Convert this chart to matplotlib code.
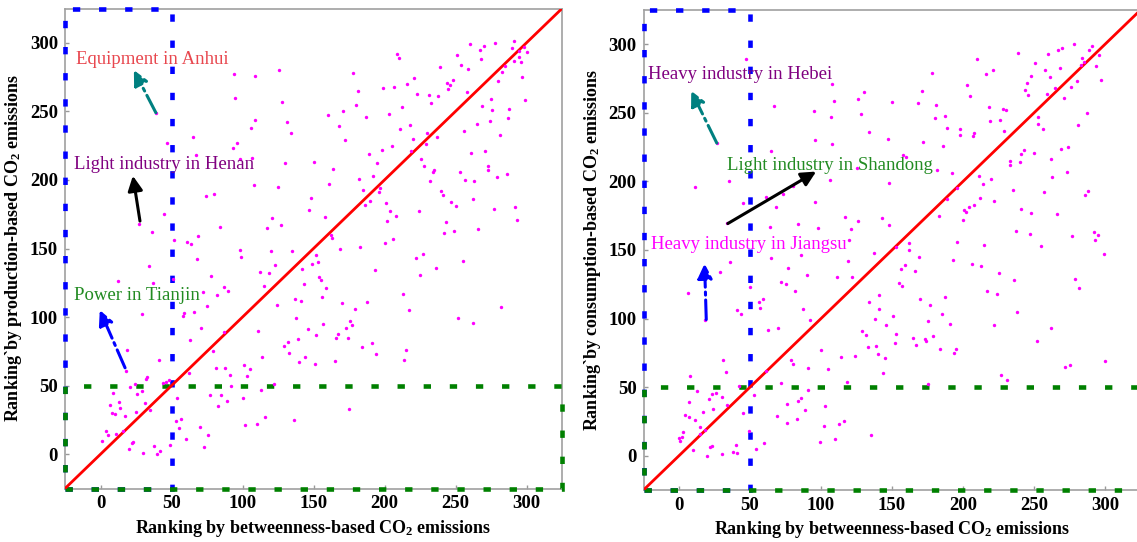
import matplotlib
matplotlib.use('Agg')
import matplotlib.pyplot as plt
from matplotlib.patches import Rectangle

plt.rcParams['font.family'] = ['Liberation Serif', 'DejaVu Serif']
plt.rcParams['mathtext.fontset'] = 'custom'
plt.rcParams['mathtext.rm'] = 'Liberation Serif:bold'
plt.rcParams['mathtext.it'] = 'Liberation Serif:italic:bold'
plt.rcParams['mathtext.bf'] = 'Liberation Serif:bold'

# ---------------- data ----------------
ticks = [0, 50, 100, 150, 200, 250, 300]
axis_min, axis_max = -25, 325
top_n = 50

left_pts = [
    (94,277),(109,276),(126,280),(95,260),(128,257),(39,249),(109,244),(106,238),(131,242),(134,234),
    (65,231),(47,227),(96,227),(93,223),(67,218),(107,216),(98,215),(130,212),(150,213),(108,196),
    (125,195),(74,188),(80,190),(148,187),(147,178),(45,175),(27,168),(36,162),(121,172),(117,165),
    (127,167),(84,166),(69,159),(52,156),(61,155),(64,153),(98,149),(120,148),(135,148),
    (260,299),(270,298),(278,300),(291,301),(267,295),(290,296),(295,294),(298,297),(300,293),(209,292),
    (210,289),(251,291),(268,288),(291,287),(295,290),(296,286),(254,284),(259,281),(239,282),(285,283),
    (283,279),(178,278),(221,274),(248,273),(244,271),(246,269),(245,266),(297,275),(280,272),(199,267),
    (207,268),(216,270),(181,265),(223,263),(231,262),(238,261),(258,264),(275,259),(233,256),(180,255),
    (212,253),(269,254),(276,251),(288,252),(299,258),(160,247),(171,250),(187,246),(203,248),(287,245),
    (274,243),(168,239),(218,240),(211,237),(265,241),(256,236),(230,234),(237,231),(281,233),(172,229),
    (220,230),(229,226),(205,225),(198,222),(219,221),(189,219),(261,220),(271,221),(226,215),(195,212),
    (164,208),(228,210),(235,207),(234,206),(273,210),(273,207),(253,206),(257,200),(263,199),(279,202),
    (286,204),(182,201),(192,203),(161,197),(232,199),(197,194),(185,193),(196,191),(240,192),(241,189),
    (190,185),(186,182),(201,183),(247,184),(250,181),(262,186),(277,179),(292,180),(158,173),(204,177),
    (208,174),(202,170),(224,177),(293,171),(243,169),(249,163),(242,161),(266,164),(162,160),(163,158),
    (206,157),(200,154),(183,151),(169,150),
    (99,144),(68,142),(34,137),(123,138),(149,139),(142,135),(112,133),(119,132),(78,130),(51,128),
    (12,126),(37,125),(143,124),(115,123),(87,122),(90,119),(72,118),(82,116),(137,113),(141,112),
    (75,108),(124,109),(59,103),(58,101),(66,104),(29,102),(6,97),(138,99),(71,92),(111,90),
    (146,91),(87,89),(63,83),(139,84),(132,82),(129,79),(19,76),(41,69),(79,75),(114,71),
    (133,74),(144,71),(140,67),(151,66),(18,61),(62,59),(33,56),(32,55),(48,54),(46,53),
    (44,52),(81,63),(88,63),(91,58),(101,65),(105,62),(103,57),(122,51),(92,50),(113,47),
    (24,51),(21,49),(9,45),(29,46),(26,44),(54,41),(77,43),(85,43),(83,35),(89,39),
    (100,41),(13,38),(7,36),(14,34),(31,37),(35,32),(25,31),(8,30),(10,29),(17,28),
    (57,26),(53,24),(55,19),(70,20),(116,27),(136,25),(102,21),(110,22),(4,17),(5,14),
    (1,10),(11,15),(16,17),(76,14),(60,11),(23,9),(22,8),(20,4),(30,1),(38,6),
    (42,2),(40,0),(49,7),(73,5),
    (152,145),(153,140),(222,143),(227,146),(255,141),(193,134),(236,136),(225,131),(154,129),(155,127),
    (159,121),(156,115),(170,110),(188,111),(213,117),(179,106),(217,105),(282,107),(157,95),(176,97),
    (177,94),(173,92),(167,88),(166,85),(174,85),(152,87),(252,99),(262,96),(184,78),(191,81),
    (194,73),(215,76),(214,69),(165,68),(175,33),
]

right_pts = [
    (47,289),(108,271),(130,265),(109,259),(126,260),(67,255),(95,251),(107,247),(128,249),(134,236),
    (147,231),(96,230),(108,227),(65,222),(27,228),(35,200),(11,196),(106,201),(125,210),(80,197),
    (73,191),(61,189),(68,181),(96,185),(45,184),(34,170),(64,167),(84,169),(98,166),(117,174),
    (126,171),(121,165),(143,173),(120,157),
    (278,300),(291,299),(289,296),(270,297),(267,296),(260,293),(239,294),(296,292),(284,290),(285,287),
    (283,285),(294,284),(268,283),(251,286),(258,281),(248,277),(261,276),(245,272),(210,289),(178,279),
    (216,278),(221,281),(203,270),(171,266),(205,262),(244,267),(246,263),(265,268),(259,264),(276,269),
    (280,273),(297,274),(271,261),(150,258),(168,257),(181,256),(218,254),(228,253),(230,252),(287,250),
    (180,246),(187,248),(219,244),(226,245),(253,247),(253,242),(256,238),(281,241),(189,239),(198,238),
    (198,234),(208,235),(207,233),(229,237),(172,229),(186,226),(274,225),(269,224),(250,221),(243,223),
    (241,220),(233,215),(233,212),(240,214),(158,219),(160,218),(262,216),(182,208),(192,206),(273,207),
    (148,199),(211,204),(220,202),(214,198),(263,203),(196,195),(189,187),(235,194),(257,192),(212,188),
    (222,186),(208,183),(204,181),(201,179),(202,178),(183,175),(200,172),(241,180),(248,177),(266,176),
    (286,190),(288,193),(148,168),(237,164),(247,162),(277,160),(292,163),(295,161),(293,157),(196,156),
    (215,154),(255,153),(162,155),(162,150),(153,152),
    (36,141),(29,134),(65,144),(77,137),(86,146),(90,132),(72,127),(75,125),(82,120),(111,130),
    (119,142),(122,130),(137,148),(6,119),(50,123),(56,112),(59,114),(57,108),(41,106),(44,103),
    (18,99),(87,107),(92,99),(63,92),(70,93),(134,112),(141,117),(141,107),(138,100),(129,91),
    (132,88),(146,95),(100,77),(114,72),(124,73),(133,79),(139,80),(140,74),(145,71),(144,60),
    (31,70),(33,61),(8,58),(79,70),(80,67),(91,64),(105,63),(61,62),(72,53),(42,51),
    (118,54),(91,48),(13,47),(23,45),(26,46),(30,43),(21,41),(7,39),(34,37),(24,34),
    (17,32),(4,30),(7,28),(11,26),(53,44),(45,31),(76,38),(86,42),(84,40),(89,33),
    (103,36),(69,29),(76,24),(83,27),(102,22),(113,23),(116,25),(135,15),(15,21),(18,19),
    (15,16),(3,17),(2,14),(0,13),(1,11),(49,18),(23,7),(22,6),(10,4),(20,0),
    (30,1),(38,3),(40,8),(41,2),(54,5),(60,9),(99,10),(110,12),
    (169,145),(193,143),(206,140),(213,138),(225,133),(236,128),(159,139),(156,136),(166,135),(155,126),
    (157,124),(299,147),(279,129),(282,122),(217,120),(224,118),(170,114),(177,110),(187,116),(185,103),
    (151,102),(175,98),(191,96),(222,95),(238,105),(262,93),(252,84),(153,89),(165,86),(173,85),
    (174,84),(179,87),(152,82),(167,81),(195,78),(194,75),(184,78),(300,69),(272,65),(275,66),
    (227,59),(231,55),(175,52),
]

left_ylabel = 'Ranking`by production-based CO$_2$ emissions'
right_ylabel = 'Ranking`by consumption-based CO$_2$ emissions'
xlabel = 'Ranking by betweenness-based CO$_2$ emissions'

# (text, color, text position, arrow tail, arrow head, arrow color, arrow style)
left_notes = [
    ('Equipment in Anhui', '#E8474E', (-17, 288), (39, 249), (23.5, 280), '#008080', '-.'),
    ('Light industry in Henan', '#800080', (-18.5, 211), (27.8, 170), (22.8, 203), 'black', '-'),
    ('Power in Tianjin', '#228B22', (-18.5, 115.5), (17.3, 63), (-0.5, 105), '#0000FF', '-.'),
]
right_notes = [
    ('Heavy industry in Hebei', '#800080', (-22, 278), (26.6, 228), (8.6, 266), '#008080', '-.'),
    ('Light industry in Shandong', '#228B22', (33.7, 211.3), (34.4, 169.3), (96.6, 207.2), 'black', '-'),
    ('Heavy industry in Jiangsu', '#FF00FF', (-19.6, 153.8), (19.2, 99.3), (18, 140), '#0000FF', '-.'),
]

# ---------------- figure ----------------
W, H = 1137, 542
fig = plt.figure(figsize=(W / 100, H / 100), dpi=100)
ax1 = fig.add_axes([65 / W, (H - 488.5) / H, 497 / W, 480 / H])
ax2 = fig.add_axes([643.5 / W, (H - 490) / H, 497 / W, 480 / H])

tick_font = dict(family='Liberation Serif', weight='bold', size=13.5)
label_font = dict(family='Liberation Serif', weight='bold', size=13)


def draw(ax, pts, ylabel, notes):
    ax.set_xlim(axis_min, axis_max)
    ax.set_ylim(axis_min, axis_max)
    span = axis_max - axis_min
    dash = (0, (1.6, 4.1))
    ax.add_patch(Rectangle((axis_min, axis_min), top_n - axis_min, span, fill=False,
                           edgecolor='#0000FF', lw=3.3, linestyle=dash, clip_on=False, zorder=3))
    ax.add_patch(Rectangle((axis_min, axis_min), span, top_n - axis_min, fill=False,
                           edgecolor='#008000', lw=3.3, linestyle=dash, clip_on=False, zorder=3))
    ax.plot([axis_min, axis_max], [axis_min, axis_max], color='#FF0000', lw=2, zorder=4)
    xs = [p[0] for p in pts]
    ys = [p[1] for p in pts]
    ax.scatter(xs, ys, s=6, c='#FF00FF', linewidths=0, zorder=5)

    ax.set_xticks(ticks)
    ax.set_yticks(ticks)
    ax.set_xticklabels([str(t) for t in ticks], fontdict=tick_font)
    ax.set_yticklabels([str(t) for t in ticks], fontdict=tick_font)
    ax.tick_params(direction='in', length=3, width=1, color='#999999', pad=5)
    for s in ax.spines.values():
        s.set_color('#A0A0A0')
        s.set_linewidth(1.2)
    ax.set_xlabel(xlabel, fontdict=label_font, labelpad=4)
    ax.set_ylabel(ylabel, fontdict=label_font, labelpad=4)

    for text, col, tpos, tail, head, acol, ls in notes:
        ax.text(tpos[0], tpos[1], text, color=col, fontsize=13.5, family='Liberation Serif',
                ha='left', va='center', zorder=6)
        ax.annotate('', xy=head, xytext=tail,
                    arrowprops=dict(arrowstyle='-|>', color=acol, lw=2.2, linestyle=ls,
                                    mutation_scale=22, shrinkA=0, shrinkB=0), zorder=6)


draw(ax1, left_pts, left_ylabel, left_notes)
draw(ax2, right_pts, right_ylabel, right_notes)

fig.savefig('out.png', dpi=100)
